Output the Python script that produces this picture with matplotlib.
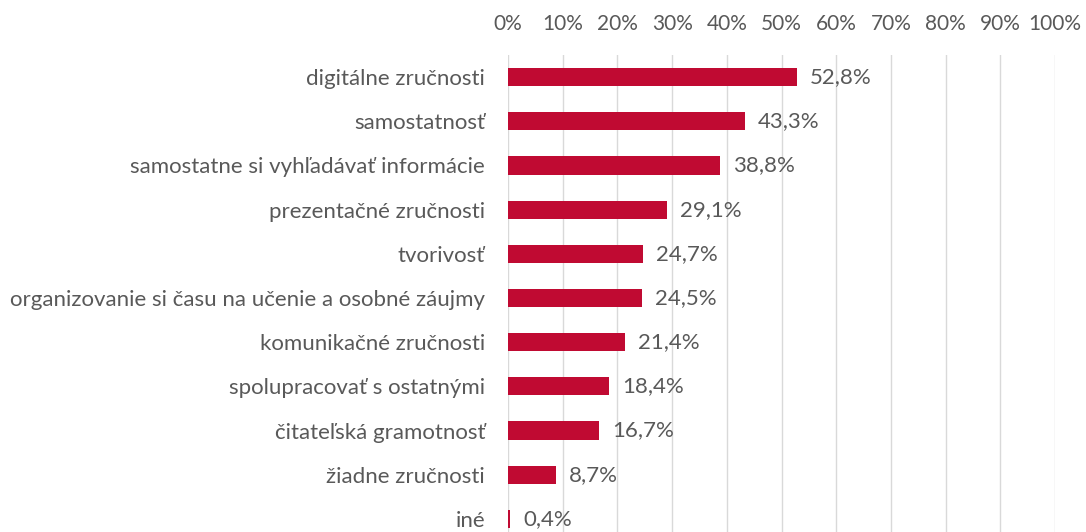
import matplotlib.pyplot as plt
from matplotlib.ticker import MultipleLocator, FuncFormatter

# Data (top to bottom as shown)
categories = [
    'digitálne zručnosti',
    'samostatnosť',
    'samostatne si vyhľadávať informácie',
    'prezentačné zručnosti',
    'tvorivosť',
    'organizovanie si času na učenie a osobné záujmy',
    'komunikačné zručnosti',
    'spolupracovať s ostatnými',
    'čitateľská gramotnosť',
    'žiadne zručnosti',
    'iné',
]
values = [52.8, 43.3, 38.8, 29.1, 24.7, 24.5, 21.4, 18.4, 16.7, 8.7, 0.4]

plt.rcParams['font.family'] = ['Lato', 'DejaVu Sans']
text_color = '#595959'
bar_color = '#C00A32'

fig = plt.figure(figsize=(10.86, 5.32), dpi=100)
ax = fig.add_axes([508 / 1086, -9 / 532, (1055 - 508) / 1086, (541 - 55) / 532])

pos = list(range(len(categories)))
ax.barh(pos, values, height=0.41, color=bar_color, zorder=3)
for p, v in zip(pos, values):
    ax.text(v + 2.4, p, f'{v:.1f}%'.replace('.', ','), va='center', ha='left',
            fontsize=16, color=text_color)

ax.set_yticks(pos)
ax.set_yticklabels(categories, fontsize=16, color=text_color)
ax.set_ylim(len(categories) - 0.5, -0.5)
ax.set_xlim(0, 100)
ax.xaxis.set_major_locator(MultipleLocator(10))
ax.xaxis.set_major_formatter(FuncFormatter(lambda x, _: f'{x:.0f}%'))
ax.xaxis.tick_top()
ax.tick_params(axis='x', length=0, labelsize=15, labelcolor=text_color, pad=15)
ax.tick_params(axis='y', length=0, pad=16.5)
ax.grid(axis='x', color='#D9D9D9', linewidth=1, zorder=0)
for s in ax.spines.values():
    s.set_visible(False)

fig.savefig('out.png', dpi=100)
